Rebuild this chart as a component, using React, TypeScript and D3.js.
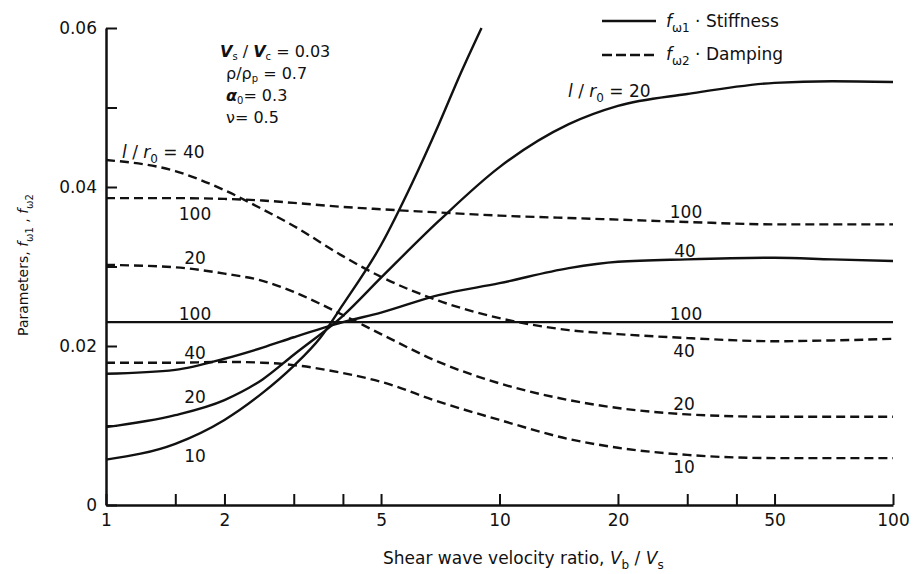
import React, { useEffect, useRef } from 'react';
import * as d3 from 'd3';

// shear wave velocity ratio Vb/Vs (x positions of the read-off points)
const ratio = [1, 1.5, 2, 2.5, 3, 4, 5, 7, 10, 15, 20, 30, 50, 70, 100];
const ratio10 = [1, 1.5, 2, 2.5, 3, 3.5, 4, 5, 6, 7, 8, 9];

// f_w1 stiffness, one array per l/r0
const stiff10 = [0.0057, 0.0077, 0.0107, 0.0141, 0.0175, 0.021, 0.0252, 0.0327, 0.0405, 0.0478, 0.0545, 0.06];
const stiff20 = [0.0098, 0.0113, 0.0132, 0.0158, 0.0189, 0.0238, 0.0286, 0.0357, 0.0425, 0.0479, 0.0502, 0.0517, 0.0531, 0.0533, 0.0532];
const stiff40 = [0.0165, 0.017, 0.0184, 0.0198, 0.0211, 0.023, 0.0242, 0.0264, 0.0279, 0.0298, 0.0306, 0.0309, 0.0311, 0.0309, 0.0307];
const stiff100 = [0.023, 0.023, 0.023, 0.023, 0.023, 0.023, 0.023, 0.023, 0.023, 0.023, 0.023, 0.023, 0.023, 0.023, 0.023];

// f_w2 damping
const damp10 = [0.0179, 0.0179, 0.018, 0.0179, 0.0176, 0.0166, 0.0155, 0.013, 0.0107, 0.0083, 0.0072, 0.0063, 0.0059, 0.0059, 0.0059];
const damp20 = [0.0302, 0.0299, 0.0291, 0.0282, 0.0268, 0.0239, 0.0215, 0.018, 0.0153, 0.0132, 0.0122, 0.0114, 0.0111, 0.0111, 0.0111];
const damp40 = [0.0434, 0.042, 0.0396, 0.0372, 0.0351, 0.0313, 0.0287, 0.0257, 0.0235, 0.022, 0.0215, 0.021, 0.0206, 0.0207, 0.0209];
const damp100 = [0.0386, 0.0386, 0.0385, 0.0383, 0.038, 0.0375, 0.0372, 0.0368, 0.0364, 0.0361, 0.0359, 0.0356, 0.0353, 0.0353, 0.0353];

// ticks
const xTicks = [1, 1.5, 2, 3, 4, 5, 10, 20, 30, 40, 50, 100];
const xLabels = [1, 2, 5, 10, 20, 50, 100];
const yTicks = [0, 0.01, 0.02, 0.03, 0.04, 0.05, 0.06];
const yLabels = ['0', '', '0.02', '', '0.04', '', '0.06'];

const FONT = 'DejaVu Sans';
const INK = '#111';

const App = () => {
  const xAxisRef = useRef<SVGGElement>(null);
  const yAxisRef = useRef<SVGGElement>(null);

  const x = d3.scaleLog().domain([1, 100]).range([106, 893]);
  const y = d3.scaleLinear().domain([0, 0.06]).range([505, 28]);

  const line = d3
    .line<[number, number]>()
    .x(d => x(d[0]))
    .y(d => y(d[1]))
    .curve(d3.curveMonotoneX);

  const pts = (xs: number[], ys: number[]) => xs.map((v, i) => [v, ys[i]] as [number, number]);

  const solid = [pts(ratio10, stiff10), pts(ratio, stiff20), pts(ratio, stiff40), pts(ratio, stiff100)];
  const dashed = [pts(ratio, damp10), pts(ratio, damp20), pts(ratio, damp40), pts(ratio, damp100)];

  useEffect(() => {
    const gx = d3.select(xAxisRef.current);
    gx.selectAll('*').remove();
    gx.call(
      d3.axisBottom(x)
        .tickValues(xTicks)
        .tickSizeInner(-11)
        .tickSizeOuter(0)
        .tickPadding(9)
        .tickFormat(d => (xLabels.includes(+d) ? String(d) : ''))
    );

    const gy = d3.select(yAxisRef.current);
    gy.selectAll('*').remove();
    gy.call(
      d3.axisLeft(y)
        .tickValues(yTicks)
        .tickSizeInner(-11)
        .tickSizeOuter(0)
        .tickPadding(9)
        .tickFormat((d, i) => yLabels[i])
    );

    [gx, gy].forEach(g => {
      g.attr('font-family', FONT).attr('font-size', 17);
      g.select('.domain').attr('stroke', INK).attr('stroke-width', 2.5);
      g.selectAll('.tick line').attr('stroke', INK).attr('stroke-width', 2);
      g.selectAll('.tick text').attr('fill', INK);
      // drop empty minor labels
      g.selectAll('.tick text').filter(function () { return !(this as SVGTextElement).textContent; }).remove();
    });
  }, []);

  const sub = (s: string, size = 12, shift = -5) => (
    <tspan baselineShift={shift} fontSize={size}>{s}</tspan>
  );

  const curveLabel = (t: string, cx: number, by: number) => (
    <text x={cx} y={by} textAnchor="middle">{t}</text>
  );

  return (
    <svg width={915} height={574} style={{ position: 'absolute', left: 0, top: 0, background: '#fff' }}>
      <g fill="none" stroke={INK} strokeWidth={2.4}>
        {solid.map((d, i) => <path key={'s' + i} d={line(d) || ''} />)}
        {dashed.map((d, i) => <path key={'d' + i} d={line(d) || ''} strokeDasharray="9,5" />)}
      </g>

      <g ref={xAxisRef} transform="translate(0,505)" />
      <g ref={yAxisRef} transform="translate(106,0)" />

      <g fontFamily={FONT} fontSize={17} fill={INK}>
        {/* left-hand curve labels */}
        <text x={122} y={158}>
          <tspan fontStyle="italic">l</tspan> / <tspan fontStyle="italic">r</tspan>{sub('0')} = 40
        </text>
        {curveLabel('100', 195, 220)}
        {curveLabel('20', 195, 264)}
        {curveLabel('100', 195, 320)}
        {curveLabel('40', 195, 359)}
        {curveLabel('20', 195, 403)}
        {curveLabel('10', 195, 462)}

        {/* right-hand curve labels */}
        <text x={568} y={97}>
          <tspan fontStyle="italic">l</tspan> / <tspan fontStyle="italic">r</tspan>{sub('0')} = 20
        </text>
        {curveLabel('100', 686, 218)}
        {curveLabel('40', 685, 257)}
        {curveLabel('100', 686, 320)}
        {curveLabel('40', 684, 357)}
        {curveLabel('20', 684, 410)}
        {curveLabel('10', 684, 473)}

        {/* parameters */}
        <g fontSize={16}>
          <text x={220} y={57}>
            <tspan fontStyle="italic" fontWeight="bold">V</tspan>{sub('s', 10, -3)} / <tspan fontStyle="italic" fontWeight="bold">V</tspan>{sub('c', 10, -3)}  = 0.03
          </text>
          <text x={226} y={79}>
            ρ/ρ{sub('p', 10, -3)} = 0.7
          </text>
          <text x={226} y={101}>
            <tspan fontStyle="italic" fontWeight="bold">α</tspan>{sub('0', 10, -3)}= 0.3
          </text>
          <text x={226} y={123}>ν= 0.5</text>
        </g>

        {/* legend */}
        <line x1={602} x2={656} y1={21} y2={21} stroke={INK} strokeWidth={2.4} />
        <text x={666} y={27}>
          <tspan fontStyle="italic">f</tspan>{sub('ω1')} · Stiffness
        </text>
        <line x1={602} x2={656} y1={55} y2={55} stroke={INK} strokeWidth={2.4} strokeDasharray="10,4" />
        <text x={666} y={60}>
          <tspan fontStyle="italic">f</tspan>{sub('ω2')} · Damping
        </text>

        {/* axis titles */}
        <text x={383} y={564}>
          Shear wave velocity ratio, <tspan fontStyle="italic">V</tspan>{sub('b')} / <tspan fontStyle="italic">V</tspan>{sub('s')}
        </text>
        <text transform="translate(28,265) rotate(-90)" textAnchor="middle" fontSize={14}>
          Parameters, <tspan fontStyle="italic">f</tspan>{sub('ω1', 10)} , <tspan fontStyle="italic">f</tspan>{sub('ω2', 10)}
        </text>
      </g>
    </svg>
  );
};

export default App;
